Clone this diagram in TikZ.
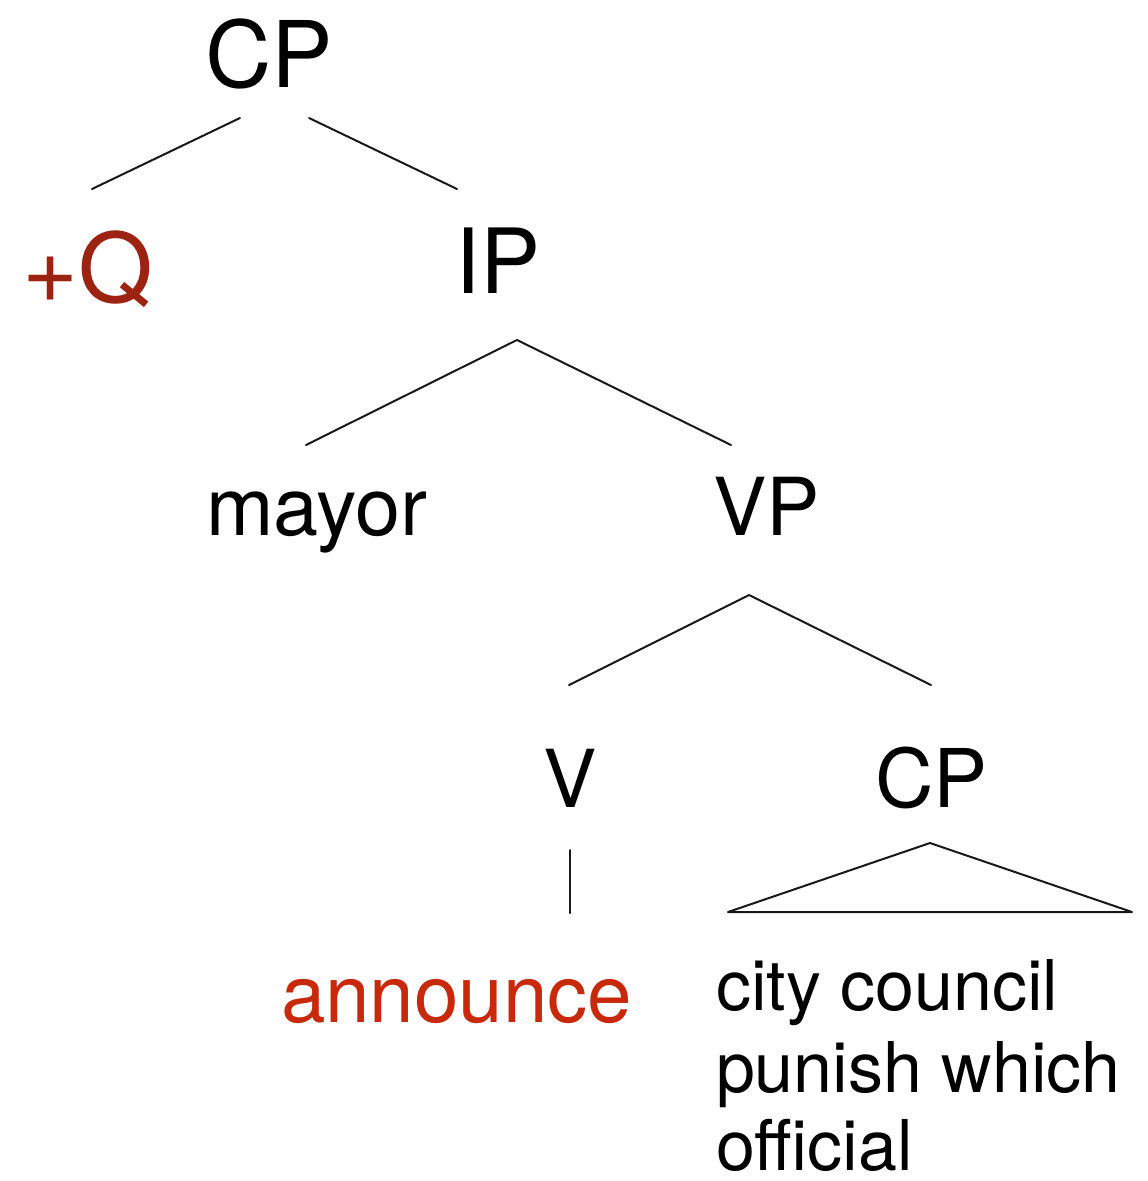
\documentclass[tikz,border=0pt]{standalone}
\usepackage{fontspec}
\setmainfont{TeX Gyre Heros}
\definecolor{featred}{HTML}{9C2211}
\definecolor{verbred}{HTML}{C8290B}
\tikzset{
  lbl/.style={anchor=base west, inner sep=0pt, outer sep=0pt},
  branch/.style={line width=2pt, line cap=round, line join=round, black!90},
}
\begin{document}
\begin{tikzpicture}[x=1pt, y=-1pt]
  \useasboundingbox (0,0) rectangle (1148,1181);

  % labels
  \node[lbl, font=\fontsize{92}{100}\selectfont] (cp) at (205,87) {CP};
  \node[lbl, font=\fontsize{96}{100}\selectfont, text=featred] (q) at (22,302) {+Q};
  \node[lbl, font=\fontsize{90}{100}\selectfont] (ip) at (455,293) {IP};
  \node[lbl, font=\fontsize{81}{90}\selectfont] (mayor) at (206,535) {mayor};
  \node[lbl, font=\fontsize{80}{90}\selectfont] (vp) at (713,535) {VP};
  \node[lbl, font=\fontsize{80}{90}\selectfont] (v) at (543,807) {V};
  \node[lbl, font=\fontsize{81}{90}\selectfont] (cp2) at (875,807) {CP};
  \node[lbl, font=\fontsize{80}{90}\selectfont, text=verbred] (announce) at (281,1022) {announce};
  \node[lbl, font=\fontsize{70}{80}\selectfont] (l1) at (716,1010) {city council};
  \node[lbl, font=\fontsize{70}{80}\selectfont] (l2) at (716,1092) {punish which};
  \node[lbl, font=\fontsize{70}{80}\selectfont] (l3) at (716,1170) {official};

  % branch end points
  \coordinate (cpL) at (240,118);  \coordinate (qT) at (92,189);
  \coordinate (cpR) at (309,118);  \coordinate (ipT) at (457,189);
  \coordinate (ipA) at (517,340);  \coordinate (mayorT) at (306,445);
                                   \coordinate (vpT) at (731,445);
  \coordinate (vpA) at (749,595);  \coordinate (vT) at (569,685);
                                   \coordinate (cp2T) at (931,685);
  \coordinate (vB) at (570,850);   \coordinate (annT) at (570,913);
  \coordinate (triA) at (930,843); \coordinate (triL) at (728,912);
  \coordinate (triR) at (1132,912);

  % branches
  \draw[branch] (cpL) -- (qT);
  \draw[branch] (cpR) -- (ipT);
  \draw[branch] (mayorT) -- (ipA) -- (vpT);
  \draw[branch] (vT) -- (vpA) -- (cp2T);
  \draw[branch] (vB) -- (annT);
  \draw[branch] (triL) -- (triA) -- (triR) -- cycle;
\end{tikzpicture}
\end{document}
